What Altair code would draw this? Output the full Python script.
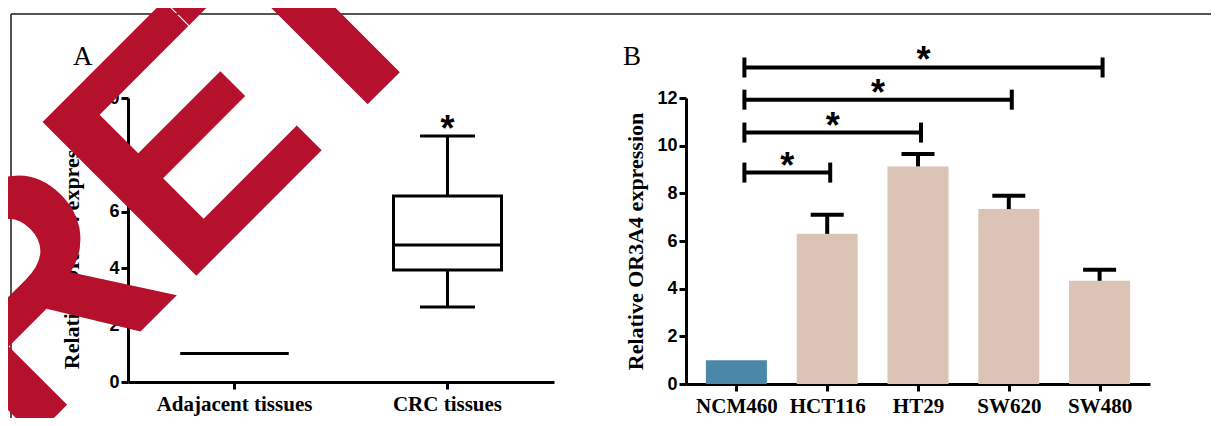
import altair as alt
import pandas as pd

# ---------------- Panel A: box plot ----------------
a_groups = ["Adajacent tissues", "CRC tissues"]
a_low = [1.0, 2.64]
a_q1 = [1.0, 3.94]
a_median = [1.0, 4.82]
a_q3 = [1.0, 6.55]
a_high = [1.0, 8.66]
a_sig = ["", "*"]
a_ticks = [0, 2, 4, 6, 8, 10]

# ---------------- Panel B: bar chart ----------------
b_cells = ["NCM460", "HCT116", "HT29", "SW620", "SW480"]
b_mean = [1.0, 6.30, 9.13, 7.34, 4.33]
b_sd = [0.0, 0.80, 0.52, 0.56, 0.46]
b_colors = ["#4A87A8", "#DBC3B5", "#DBC3B5", "#DBC3B5", "#DBC3B5"]
b_ticks = [0, 2, 4, 6, 8, 10, 12]

# significance brackets (NCM460 vs each line)
br_from = ["NCM460", "NCM460", "NCM460", "NCM460"]
br_to = ["HCT116", "HT29", "SW620", "SW480"]
br_level = [8.87, 10.55, 11.93, 13.28]
br_label = ["*", "*", "*", "*"]

Y_TITLE = "Relative OR3A4 expression"
WATERMARK_PARTS = ["RE", "TRACTED"]

SERIF = "Liberation Serif"
SANS = "Liberation Sans"

df_a = pd.DataFrame({"group": a_groups, "low": a_low, "q1": a_q1, "median": a_median,
                     "q3": a_q3, "high": a_high, "sig": a_sig})
df_b = pd.DataFrame({"idx": list(range(len(b_cells))), "cell": b_cells,
                     "mean": b_mean, "sd": b_sd})
df_br = pd.DataFrame({"from_idx": [b_cells.index(c) for c in br_from],
                      "to_idx": [b_cells.index(c) for c in br_to],
                      "level": br_level, "label": br_label})
df_one = pd.DataFrame({"k": [0]})

common_axis = dict(domainColor="black", domainWidth=3, tickColor="black", tickWidth=3,
                   tickSize=7, labelColor="black", grid=False, titleColor="black")

# ----- scales / axes panel A -----
SCALE_AX = alt.Scale(domain=a_groups, range=[120, 546], paddingInner=0, paddingOuter=0)
SCALE_AY = alt.Scale(domain=[0, 10], range=[374, 90], nice=False, zero=True)
AXIS_AX = alt.Axis(orient="bottom", offset=-36, title=None, labelFont=SERIF,
                   labelFontWeight="bold", labelFontSize=21, labelPadding=4,
                   labelAngle=0, **common_axis)
AXIS_AY = alt.Axis(orient="left", offset=-120, values=a_ticks, title=Y_TITLE,
                   titleFont=SERIF, titleFontWeight="bold", titleFontSize=22,
                   titlePadding=15, labelFont=SANS, labelFontWeight="bold",
                   labelFontSize=18, labelPadding=2, **common_axis)

XA = alt.X("group:N", scale=SCALE_AX, axis=AXIS_AX, sort=a_groups)


def YA(field):
    return alt.Y(field, scale=SCALE_AY, axis=AXIS_AY)


base_a = alt.Chart(df_a)
box = base_a.mark_bar(size=108, fill="white", stroke="black", strokeWidth=3).encode(
    x=XA, y=YA("q1:Q"), y2="q3:Q")
median = base_a.mark_tick(size=108, thickness=3, color="black", opacity=1).encode(
    x=XA, y=YA("median:Q"))
wh_up = base_a.mark_rule(color="black", strokeWidth=3).encode(x=XA, y=YA("q3:Q"), y2="high:Q")
wh_lo = base_a.mark_rule(color="black", strokeWidth=3).encode(x=XA, y=YA("low:Q"), y2="q1:Q")
cap_up = base_a.mark_tick(size=55, thickness=3, color="black", opacity=1).encode(
    x=XA, y=YA("high:Q"))
cap_lo = base_a.mark_tick(size=55, thickness=3, color="black", opacity=1).encode(
    x=XA, y=YA("low:Q"))
star_a = base_a.mark_text(font=SANS, fontWeight="bold", fontSize=36, color="black",
                          baseline="alphabetic", align="center", dy=5).encode(
    x=XA, y=YA("high:Q"), text="sig:N")
layer_a = alt.layer(box, wh_up, wh_lo, cap_up, cap_lo, median, star_a)

# ----- scales / axes panel B -----
SCALE_BX = alt.Scale(domain=[-0.5, len(b_cells) - 0.5], range=[678, 1142], nice=False, zero=False)
SCALE_BY = alt.Scale(domain=[0, 12], range=[376, 90], nice=False, zero=True)
label_expr = "[" + ",".join("'" + c + "'" for c in b_cells) + "][datum.value]"
AXIS_BX = alt.Axis(orient="bottom", offset=-34, title=None, values=list(range(len(b_cells))),
                   labelExpr=label_expr, labelFont=SERIF, labelFontWeight="bold",
                   labelFontSize=21, labelPadding=4, labelAngle=0, labelOverlap=False,
                   labelFlush=False, **common_axis)
AXIS_BY = alt.Axis(orient="left", offset=-678, values=b_ticks, title=Y_TITLE,
                   titleFont=SERIF, titleFontWeight="bold", titleFontSize=22,
                   titlePadding=9, labelFont=SANS, labelFontWeight="bold",
                   labelFontSize=18, labelPadding=2, **common_axis)


def XB(field):
    return alt.X(field, scale=SCALE_BX, axis=AXIS_BX)


def YB(field):
    return alt.Y(field, scale=SCALE_BY, axis=AXIS_BY)


base_b = alt.Chart(df_b).transform_calculate(top="datum.mean + datum.sd")
bars = base_b.mark_bar(size=61, orient="vertical").encode(
    x=XB("idx:Q"), y=YB("mean:Q"),
    color=alt.Color("cell:N", scale=alt.Scale(domain=b_cells, range=b_colors), legend=None))
err = base_b.transform_filter("datum.sd > 0").mark_rule(color="black", strokeWidth=4).encode(
    x=XB("idx:Q"), y=YB("mean:Q"), y2="top:Q")
err_cap = base_b.transform_filter("datum.sd > 0").mark_tick(
    orient="horizontal", size=33, thickness=4, color="black", opacity=1).encode(
    x=XB("idx:Q"), y=YB("top:Q"))

base_br = alt.Chart(df_br).transform_calculate(mid="(datum.from_idx + datum.to_idx) / 2")
br_line = base_br.mark_rule(color="black", strokeWidth=4, xOffset=8, x2Offset=3).encode(
    x=XB("from_idx:Q"), x2="to_idx:Q", y=YB("level:Q"))
br_left = base_br.mark_tick(orient="vertical", size=20, thickness=4, color="black",
                            opacity=1, xOffset=8).encode(x=XB("from_idx:Q"), y=YB("level:Q"))
br_right = base_br.mark_tick(orient="vertical", size=20, thickness=4, color="black",
                             opacity=1, xOffset=3).encode(x=XB("to_idx:Q"), y=YB("level:Q"))
br_star = base_br.mark_text(font=SANS, fontWeight="bold", fontSize=36, color="black",
                            baseline="alphabetic", align="center", dy=5, xOffset=5.5).encode(
    x=XB("mid:Q"), y=YB("level:Q"), text="label:N")
layer_b = alt.layer(bars, err, err_cap, br_line, br_left, br_right, br_star)

# ----- decorations: frame, panel letters, diagonal "RETRACTED" stamp -----
deco_base = alt.Chart(df_one)
frame_top = deco_base.mark_rule(color="#1a1a1a", strokeWidth=1.5).encode(
    x=alt.value(3), x2=alt.value(1215), y=alt.value(6))
frame_left = deco_base.mark_rule(color="#1a1a1a", strokeWidth=1.5).encode(
    x=alt.value(3), y=alt.value(6), y2=alt.value(420))
lab_a = deco_base.mark_text(text="A", font=SERIF, fontSize=27, color="black",
                            align="left", baseline="alphabetic").encode(
    x=alt.value(65), y=alt.value(57))
lab_b = deco_base.mark_text(text="B", font=SERIF, fontSize=27, color="black",
                            align="left", baseline="alphabetic").encode(
    x=alt.value(615), y=alt.value(57))
wm_style = dict(font=SANS, fontWeight="bold", fontSize=316, color="#B5112D",
                align="left", baseline="alphabetic", angle=315)
wm_1 = deco_base.mark_text(text=WATERMARK_PARTS[0], **wm_style).encode(
    x=alt.value(12), y=alt.value(444))
wm_2 = deco_base.mark_text(text=WATERMARK_PARTS[1], **wm_style).encode(
    x=alt.value(307.5), y=alt.value(148.5))
deco = alt.layer(frame_top, frame_left, lab_a, lab_b, wm_1, wm_2)

chart = alt.layer(layer_a, layer_b, deco).resolve_scale(
    x="independent", y="independent"
).properties(
    width=1203, height=410, autosize=alt.AutoSizeParams(type="none"), padding=0,
    background="white"
).configure_view(stroke=None)

chart.save("out.html", embed_options={"renderer": "svg", "actions": False})
